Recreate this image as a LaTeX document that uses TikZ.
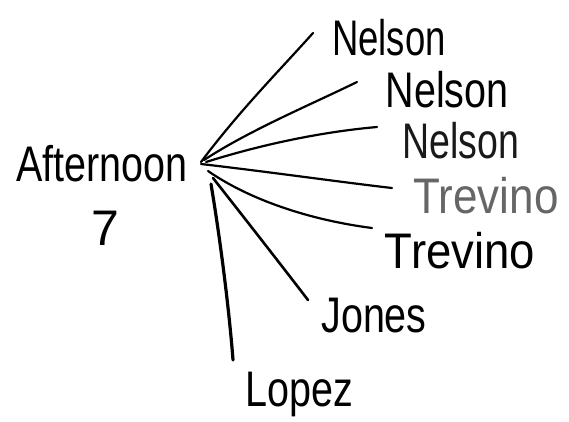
\documentclass[tikz,border=0pt]{standalone}
\usepackage{fontspec}
\usepackage{graphicx}
\setmainfont{Liberation Sans}
\newcommand\hwtext[2]{\scalebox{#1}[1]{#2}}
\begin{document}
\begin{tikzpicture}[x=1pt,y=-1pt,
  lbl/.style={inner sep=0pt,font=\fontsize{50}{52}\selectfont},
  stroke/.style={line width=2.2pt,line cap=round}]
\useasboundingbox (0,0) rectangle (569,421);
% labels
\node[lbl] (aft) at (102,164) {\hwtext{0.79}{Afternoon}};
\node[lbl] (seven) at (105,228) {7};
\node[lbl] (n1) at (389,38) {\hwtext{0.73}{Nelson}};
\node[lbl] (n2) at (447,90) {\hwtext{0.79}{Nelson}};
\node[lbl,text=black!90] (n3) at (461,141) {\hwtext{0.75}{Nelson}};
\node[lbl,text=black!60] (t1) at (486,196) {\hwtext{0.88}{Trevino}};
\node[lbl] (t2) at (460,251) {\hwtext{0.91}{Trevino}};
\node[lbl] (jo) at (374,316) {\hwtext{0.79}{Jones}};
\node[lbl] (lo) at (299,394) {\hwtext{0.79}{Lopez}};
% hub points and line ends
\coordinate (h1) at (201,162);
\coordinate (h2) at (204,160);
\coordinate (h3) at (206,162);
\coordinate (h4) at (201,164);
\coordinate (h5) at (208,171);
\coordinate (h6) at (213,178);
\coordinate (h7) at (211,184);
\coordinate (e1) at (313,33);
\coordinate (e2) at (357,82);
\coordinate (e3) at (377,127);
\coordinate (e4) at (392,188);
\coordinate (e5) at (372,228);
\coordinate (e6) at (308,300);
\coordinate (e7) at (233,360);
% connectors
\draw[stroke] (h1) .. controls (240,110) and (280,70) .. (e1);
\draw[stroke] (h2) .. controls (250,130) and (310,105) .. (e2);
\draw[stroke] (h3) .. controls (260,145) and (320,132) .. (e3);
\draw[stroke] (h4) .. controls (270,172) and (340,182) .. (e4);
\draw[stroke] (h5) .. controls (250,200) and (310,220) .. (e5);
\draw[stroke,line width=2.6pt] (h6) .. controls (250,225) and (285,270) .. (e6);
\draw[stroke,line width=3.2pt] (h7) .. controls (222,250) and (230,320) .. (e7);
\end{tikzpicture}
\end{document}
